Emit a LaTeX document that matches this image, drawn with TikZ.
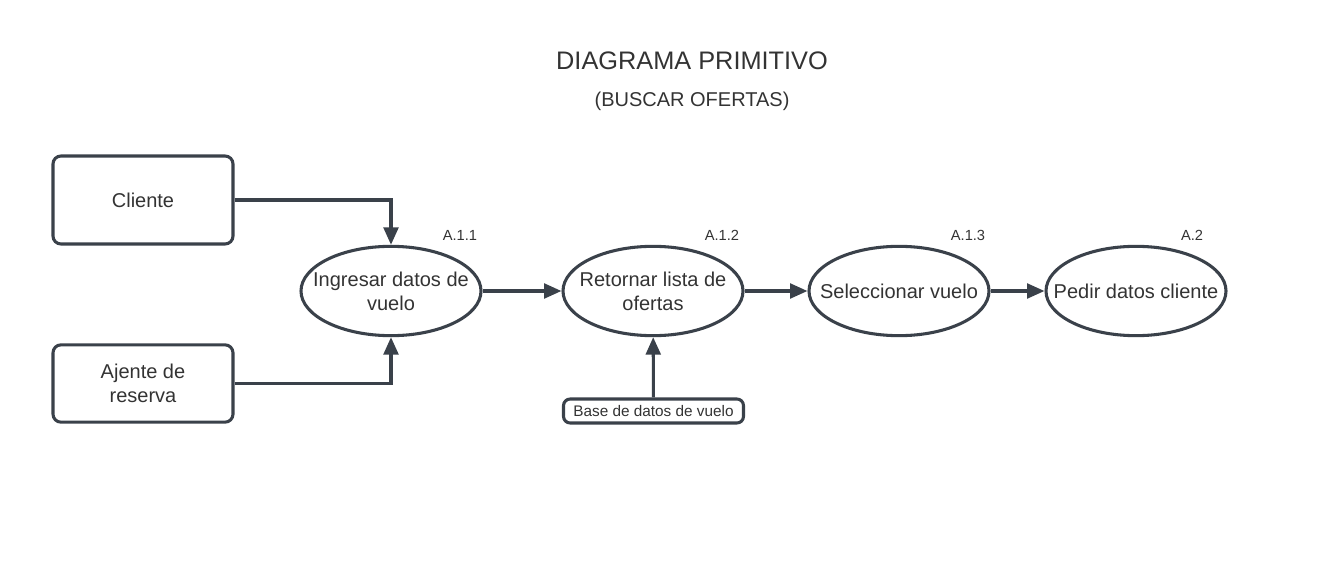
\documentclass[tikz,border=0pt]{standalone}
\usepackage{fontspec}
\setmainfont{Liberation Sans}
\usetikzlibrary{positioning,arrows.meta,shapes.geometric}
\definecolor{linegray}{HTML}{3A414A}
\definecolor{textgray}{HTML}{333333}

\begin{document}
\begin{tikzpicture}[x=0.75pt,y=-0.75pt,>={Triangle[length=13pt,width=11pt]},line width=2.3pt,draw=linegray,text=textgray]
\tikzstyle{entity}=[rectangle,draw=linegray,rounded corners=6pt,align=center,minimum width=135pt,font=\fontsize{15}{18}\selectfont]
\tikzstyle{proc}=[ellipse,draw=linegray,align=center,minimum width=135pt,minimum height=67pt,inner xsep=-22pt,inner ysep=0pt,font=\fontsize{15}{18}\selectfont]
\tikzstyle{tag}=[font=\fontsize{11}{13}\selectfont]
\useasboundingbox (0,0) rectangle (1330,577);

\node at (692,61) (tit) {\fontsize{19}{22}\selectfont DIAGRAMA PRIMITIVO};
\node at (692,101) (sub) {\fontsize{15}{18}\selectfont (BUSCAR OFERTAS)};

\node[entity,minimum height=66pt] at (143,200) (cli) {Cliente};
\node[entity,minimum height=58pt] at (143,383.5) (aje) {Ajente de\\reserva};

\node[proc] at (391,291) (p1) {Ingresar datos de\\vuelo};
\node[proc] at (653,291) (p2) {Retornar lista de\\ofertas};
\node[proc] at (899,291) (p3) {Seleccionar vuelo};
\node[proc] at (1136,291) (p4) {Pedir datos cliente};

\node[entity,rounded corners=5pt,minimum height=18pt,inner sep=1pt,font=\fontsize{11.5}{13}\selectfont] at (653.5,411) (bd) {Base de datos de vuelo};

\node[tag] at (460,235) (t1) {A.1.1};
\node[tag] at (722,235) (t2) {A.1.2};
\node[tag] at (968,235) (t3) {A.1.3};
\node[tag] at (1192,235) (t4) {A.2};

\draw[->] (cli.east) -| (p1.north);
\draw[->] (aje.east) -| (p1.south);
\draw[->] (p1) -- (p2);
\draw[->] (p2) -- (p3);
\draw[->] (p3) -- (p4);
\draw[->] (bd) -- (p2);
\end{tikzpicture}
\end{document}
